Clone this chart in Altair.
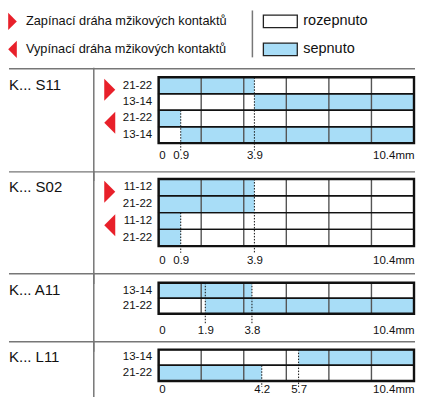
import altair as alt
import pandas as pd

# ---------------- data ----------------
legend_arrows = ["Zapínací dráha mžikových kontaktů", "Vypínací dráha mžikových kontaktů"]
arrow_dirs = ["on", "off"]
legend_states = ["rozepnuto", "sepnuto"]

titles = ["K... S11", "K... S02", "K... A11", "K... L11"]

s11_rows = ["21-22", "13-14", "21-22", "13-14"]
s11_start = [0, 3.9, 0, 0.9]
s11_end = [3.9, 10.4, 0.9, 10.4]
s11_ticks = [0, 0.9, 3.9, 10.4]
s11_dot_val = [0.9, 3.9]
s11_dot_row = [2, 0]
s11_tri_dir = ["on", "off"]
s11_tri_row = [0, 2]

s02_rows = ["11-12", "21-22", "11-12", "21-22"]
s02_start = [0, 0, 0, 0]
s02_end = [3.9, 3.9, 0.9, 0.9]
s02_ticks = [0, 0.9, 3.9, 10.4]
s02_dot_val = [0.9, 3.9]
s02_dot_row = [2, 0]
s02_tri_dir = ["on", "off"]
s02_tri_row = [0, 2]

a11_rows = ["13-14", "21-22"]
a11_start = [0, 1.9]
a11_end = [3.8, 10.4]
a11_ticks = [0, 1.9, 3.8, 10.4]
a11_dot_val = [1.9, 3.8]
a11_dot_row = [0, 0]

l11_rows = ["13-14", "21-22"]
l11_start = [5.7, 0]
l11_end = [10.4, 4.2]
l11_ticks = [0, 4.2, 5.7, 10.4]
l11_dot_val = [4.2, 5.7]
l11_dot_row = [1, 0]

STROKE_MAX = 10.4

# ---------------- style ----------------
BLUE = "#a8ddf7"
RED = "#e8202a"
GRAY = "#777777"
FONT = "Liberation Sans"
W = 256
SPACING = 36
TRI_R = "M-0.55,-1L0.55,0L-0.55,1Z"
TRI_L = "M0.55,-1L-0.55,0L0.55,1Z"
BOX = "M-1,-0.37L1,-0.37L1,0.37L-1,0.37Z"


def section(title, rows, bstart, bend, ticks, dot_val, dot_row, tri_dir, tri_row,
            rowh, sep_top, label_pad, dot_ext, line_bottom):
    n = len(rows)
    h = n * rowh
    ids = [f"{i}|{r}" for i, r in enumerate(rows)]
    xscale = alt.Scale(domain=[0, STROKE_MAX], nice=False, zero=True)
    yenc = alt.Y("row:N", scale=alt.Scale(paddingInner=0, paddingOuter=0),
                 axis=alt.Axis(title=None, ticks=False, domain=False, labelPadding=7,
                               labelFont=FONT, labelFontSize=11.5, labelColor="#111",
                               labelExpr="split(datum.value, '|')[1]"))
    df = pd.DataFrame({"row": ids, "s": bstart, "e": bend,
                       "x0": [0] * n, "x1": [STROKE_MAX] * n})
    fills = alt.Chart(df).mark_rect(color=BLUE).encode(
        x=alt.X("s:Q", scale=xscale,
                axis=alt.Axis(values=ticks, labelFlush=True, domain=False, ticks=False,
                              grid=False, title=None, labelPadding=label_pad,
                              labelFont=FONT, labelFontSize=11.5, labelColor="#111",
                              labelExpr="datum.value == 10.4 ? '10.4mm' : '' + datum.value")),
        x2="e:Q", y=yenc)
    rowbox = alt.Chart(df).mark_rect(fillOpacity=0, stroke="#111", strokeWidth=1.4).encode(
        x="x0:Q", x2="x1:Q", y="row:N")
    cols = pd.DataFrame({"c": [STROKE_MAX * i / 6 for i in range(1, 6)]})
    grid = alt.Chart(cols).mark_rule(color="#555", strokeWidth=1.4).encode(
        x="c:Q", y=alt.value(0), y2=alt.value(h))
    outer = alt.Chart(pd.DataFrame({"t": [title]})).mark_rect(
        fillOpacity=0, stroke="#111", strokeWidth=2.4).encode(
        x=alt.value(0), x2=alt.value(W), y=alt.value(0), y2=alt.value(h))
    ddf = pd.DataFrame({"v": dot_val, "row": [ids[r] for r in dot_row]})
    dots = alt.Chart(ddf).mark_rule(color="#111", strokeWidth=1, strokeDash=[1.5, 1.5]).encode(
        x="v:Q", y=alt.Y("row:N", bandPosition=0), y2=alt.value(h + dot_ext))
    tdf = pd.DataFrame({"t": [title]})
    ttl = alt.Chart(tdf).mark_text(align="left", baseline="middle", font=FONT, fontSize=15,
                                   color="#111").encode(
        x=alt.value(-150), y=alt.value(7.5), text="t:N")
    sep = alt.Chart(tdf).mark_rule(color=GRAY, strokeWidth=1.5).encode(
        x=alt.value(-150), x2=alt.value(W + 1), y=alt.value(-sep_top))
    vline = alt.Chart(tdf).mark_rule(color=GRAY, strokeWidth=1.5).encode(
        x=alt.value(-65), y=alt.value(-sep_top - 1), y2=alt.value(line_bottom))
    layers = [sep, vline, ttl, fills, grid, rowbox, outer, dots]
    if tri_dir:
        trdf = pd.DataFrame({"dir": tri_dir, "row": [ids[r] for r in tri_row]})
        tris = alt.Chart(trdf).mark_point(filled=True, opacity=1, color=RED, size=484,
                                          yOffset=-4).encode(
            x=alt.value(-49), y=alt.Y("row:N", bandPosition=1),
            shape=alt.Shape("dir:N", scale=alt.Scale(domain=["on", "off"],
                                                     range=[TRI_R, TRI_L]), legend=None))
        layers.append(tris)
    return alt.layer(*layers).properties(width=W, height=h)


# ---------------- header ----------------
hdf = pd.DataFrame({"i": [0, 1], "dir": arrow_dirs, "txt": legend_arrows, "state": legend_states})
hy = alt.Y("i:Q", scale=alt.Scale(domain=[0, 1], range=[11, 39]), axis=None)
h_tri = alt.Chart(hdf).mark_point(filled=True, opacity=1, color=RED, size=300).encode(
    x=alt.value(-146.5), y=hy,
    shape=alt.Shape("dir:N", scale=alt.Scale(domain=["on", "off"],
                                             range=["M-0.5,-1L0.5,0L-0.5,1Z",
                                                    "M0.5,-1L-0.5,0L0.5,1Z"]), legend=None))
h_txt = alt.Chart(hdf).mark_text(align="left", baseline="middle", font=FONT, fontSize=12.8,
                                 color="#111").encode(x=alt.value(-133), y=hy, text="txt:N")
h_box = alt.Chart(hdf).mark_point(filled=True, opacity=1, stroke="#222", strokeWidth=1.3,
                                  size=1156, shape=BOX).encode(
    x=alt.value(122), y=hy,
    color=alt.Color("state:N", scale=alt.Scale(domain=legend_states, range=["white", BLUE]),
                    legend=None))
h_stxt = alt.Chart(hdf).mark_text(align="left", baseline="middle", font=FONT, fontSize=14.5,
                                  color="#111").encode(x=alt.value(145), y=hy, text="state:N")
h_line = alt.Chart(hdf.head(1)).mark_rule(color=GRAY, strokeWidth=1.5).encode(
    x=alt.value(94), y=alt.value(0), y2=alt.value(47))
header = alt.layer(h_line, h_tri, h_txt, h_box, h_stxt).properties(width=W, height=30.7)

s11 = section(titles[0], s11_rows, s11_start, s11_end, s11_ticks, s11_dot_val, s11_dot_row,
              s11_tri_dir, s11_tri_row, 16.5, 8.5, 6.5, 7.3, 66 + SPACING + 2)
s02 = section(titles[1], s02_rows, s02_start, s02_end, s02_ticks, s02_dot_val, s02_dot_row,
              s02_tri_dir, s02_tri_row, 16.8, 7.2, 8.3, 6.7, 67.2 + SPACING + 2)
a11 = section(titles[2], a11_rows, a11_start, a11_end, a11_ticks, a11_dot_val, a11_dot_row,
              [], [], 15.5, 9.0, 11.3, 10.5, 31 + SPACING + 2)
l11 = section(titles[3], l11_rows, l11_start, l11_end, l11_ticks, l11_dot_val, l11_dot_row,
              [], [], 15.7, 8.0, 3, 6, 50)

chart = alt.vconcat(header, s11, s02, a11, l11, spacing=SPACING, bounds="flush").properties(
    padding={"left": 0, "top": 1, "right": 0, "bottom": -4.5}, background="white"
).configure_view(strokeWidth=0, stroke=None)

chart.save("out.html", embed_options={"renderer": "svg", "actions": False})
